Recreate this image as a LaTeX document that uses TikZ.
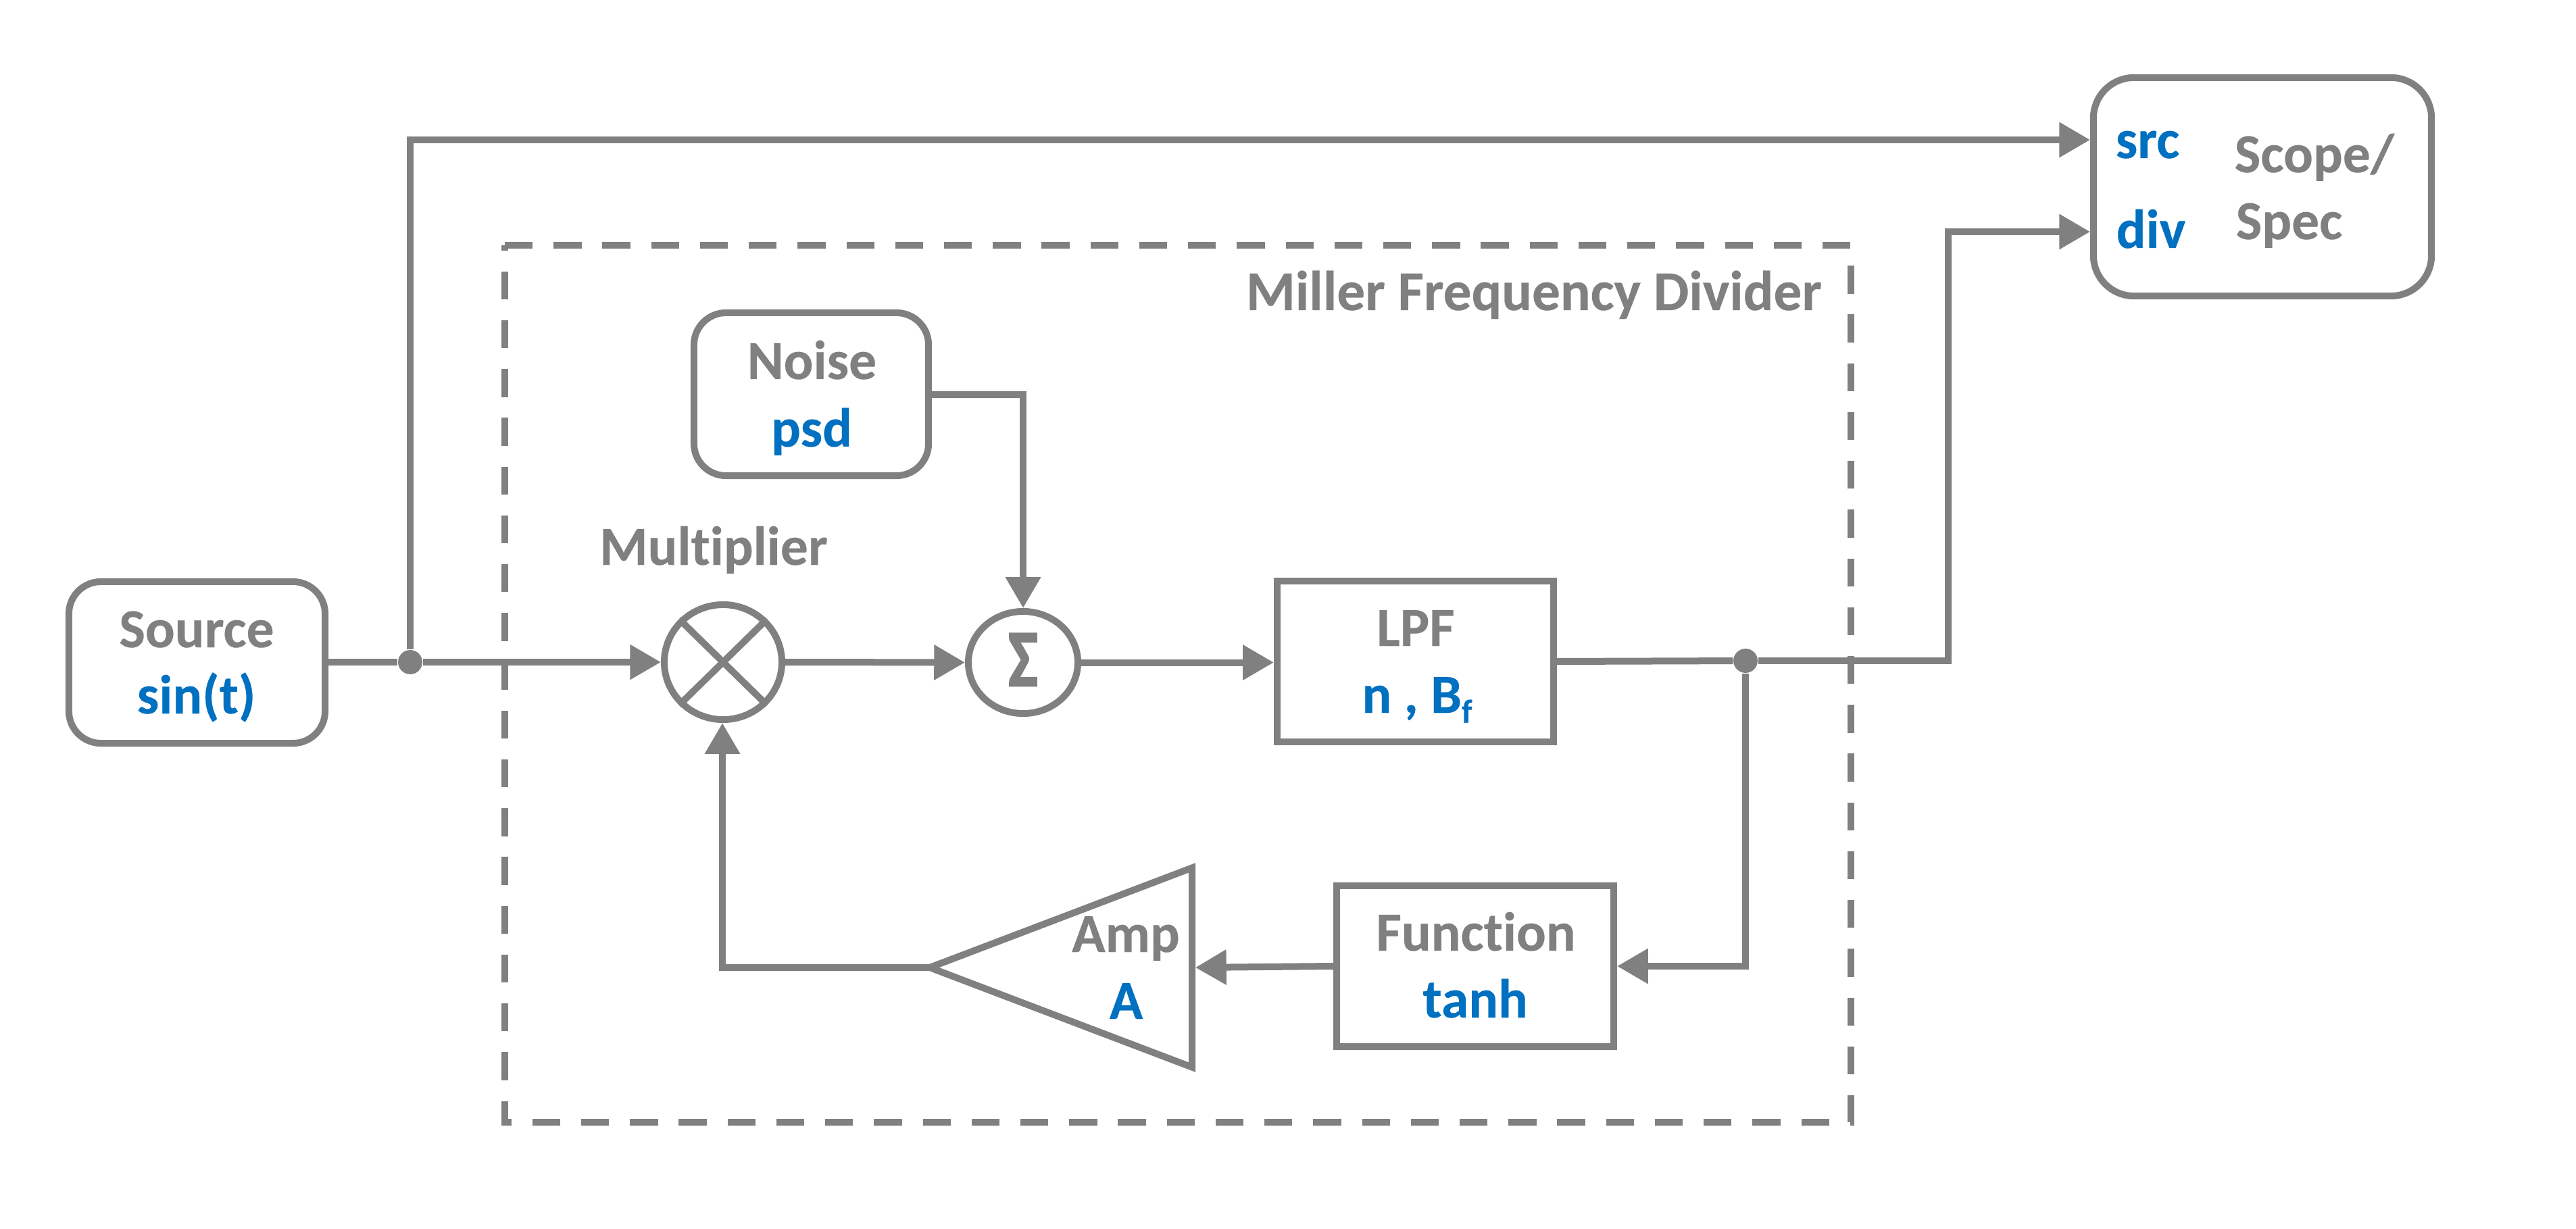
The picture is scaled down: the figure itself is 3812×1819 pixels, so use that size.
\documentclass[tikz,border=0pt]{standalone}
\usepackage{fontspec}
\setmainfont[Ligatures=NoCommon,BoldFeatures={FakeBold=0.3}]{Carlito}
\newfontfamily\sigmafont[BoldFeatures={FakeBold=2.5}]{Carlito}
\usetikzlibrary{arrows.meta,shapes.geometric}
\definecolor{linegray}{HTML}{808080}
\definecolor{paramblue}{HTML}{0070C0}
\tikzset{
  x=0.01cm,y=-0.01cm,
  wire/.style={draw=linegray,line width=2.845pt,line join=miter},
  flow/.style={wire,-{Triangle[length=13pt,width=14.2pt]}},
  roundbox/.style={draw=linegray,line width=2.845pt,rounded corners=13.5pt,inner sep=0pt},
  squarebox/.style={draw=linegray,line width=2.845pt,inner sep=0pt},
  circ/.style={draw=linegray,line width=2.845pt,ellipse,inner sep=0pt},
  dot/.style={circle,fill=linegray,inner sep=0pt,minimum size=10.2pt},
  title/.style={text=linegray,font=\bfseries\fontsize{23.2pt}{27pt}\selectfont,inner sep=0pt,anchor=base},
  param/.style={text=paramblue,font=\bfseries\fontsize{23.2pt}{27pt}\selectfont,inner sep=0pt,anchor=base},
  frame/.style={draw=linegray,line width=2.845pt,dash pattern=on 11.75pt off 8.787pt},
}
\begin{document}
\begin{tikzpicture}
\useasboundingbox (0,0) rectangle (3812,1819);
% frame, drawn clockwise from its top left corner
\coordinate (fnw) at (747,363);
\coordinate (fne) at (2739,363);
\coordinate (fse) at (2739,1661);
\coordinate (fsw) at (747,1661);
\draw[frame] (fnw) -- (fne) -- (fse) -- (fsw) -- cycle;
% blocks
\node[roundbox,minimum width=379*0.2845pt,minimum height=239*0.2845pt] (source) at (291.5,980.5) {};
\node[roundbox,minimum width=347*0.2845pt,minimum height=241*0.2845pt] (noise) at (1200.5,583.5) {};
\node[roundbox,rounded corners=17pt,minimum width=500*0.2845pt,minimum height=323*0.2845pt] (scope) at (3348,276.5) {};
\node[squarebox,minimum width=409*0.2845pt,minimum height=238*0.2845pt] (lpf) at (2094.5,979) {};
\node[squarebox,minimum width=410*0.2845pt,minimum height=238*0.2845pt] (func) at (2183,1430) {};
\node[circ,minimum width=174*0.2845pt,minimum height=170*0.2845pt] (mult) at (1070,980) {};
\node[circ,minimum width=162*0.2845pt,minimum height=151*0.2845pt] (sum) at (1514,980.5) {};
\node[draw=linegray,line width=2.845pt,isosceles triangle,isosceles triangle stretches,shape border rotate=180,inner sep=0pt,minimum width=295*0.2845pt,minimum height=388*0.2845pt,anchor=lower side] (amp) at (1769,1432) {};
% multiplier cross
\draw[draw=linegray,line width=2.845pt] (mult.north west) -- (mult.south east);
\draw[draw=linegray,line width=2.845pt] (mult.north east) -- (mult.south west);
% junctions
\node[dot] (j1) at (607,980) {};
\node[dot] (j2) at (2583,978) {};
\coordinate (topcorner) at (607,207);
\coordinate (divcorner) at (2883,343);
\coordinate (divlow) at (2883,978);
\coordinate (scopeA) at (3093,207);
\coordinate (scopeB) at (3093,343);
\coordinate (noisecorner) at (1514,584);
\coordinate (fbcorner) at (1069,1432);
\coordinate (ampout) at (1390,1432);
\coordinate (j2corner) at (2583,1430);
% connectors
\draw[wire] (source.east |- j1) -- (j1);
\draw[flow] (j1) -- (mult.west);
\draw[flow] (j1) -- (topcorner) -- (scopeA);
\draw[flow] (mult.east) -- (sum.west);
\draw[flow] (sum.east) -- (lpf.west |- sum.east);
\draw[flow] (noise.east |- noisecorner) -- (noisecorner) -- (sum.north);
\draw[wire] (lpf.east) -- (j2);
\draw[flow] (j2) -- (divlow) -- (divcorner) -- (scopeB);
\draw[flow] (j2) -- (j2corner) -- (func.east);
\draw[flow] (func.west) -- (amp.lower side);
\draw[flow] (ampout) -- (fbcorner) -- (fbcorner |- mult.south);
% labels
\node[title] (t1) at (291,958) {Source};
\node[param] (p1) at (290.5,1056) {sin(t)};
\node[title] (t2) at (1201.5,561) {Noise};
\node[param] (p2) at (1201,661) {psd};
\node[title] (t3) at (1056,836) {Multiplier};
\node[title,font=\sigmafont\bfseries\fontsize{26pt}{30pt}\selectfont] (t4) at (1514,1015) {\scalebox{1}[1.3]{Σ}};
\node[title] (t5) at (2095,956) {LPF};
\node[param] (p5) at (2097,1055) {n , B\raisebox{-0.18em}{\fontsize{14pt}{16pt}\selectfont f}};
\node[title] (t6) at (2184,1407) {Function};
\node[param] (p6) at (2183,1506) {tanh};
\node[title] (t7) at (1666,1409) {Amp};
\node[param] (p7) at (1666.5,1508) {A};
\node[title,font=\bfseries\fontsize{23.7pt}{27pt}\selectfont] (t8) at (2270,459) {Miller Frequency Divider};
\node[param,anchor=base west] (p9) at (3130,234) {src};
\node[param,anchor=base west] (p10) at (3131,367) {div};
\node[title,anchor=base west] (t9) at (3306,255) {Scope/};
\node[title,anchor=base west] (t10) at (3308,354) {Spec};
\end{tikzpicture}
\end{document}
